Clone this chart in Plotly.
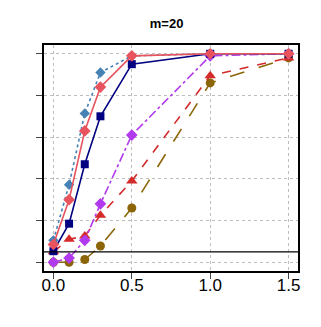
import plotly.graph_objects as go

# shift values (x axis) and rejection rates per method
shift = [0.0, 0.1, 0.2, 0.3, 0.5, 1.0, 1.5]

steel_diamond = [0.105, 0.372, 0.714, 0.91, 0.99, 1.0, 1.0]
red_diamond = [0.085, 0.30, 0.63, 0.84, 0.99, 1.0, 1.0]
navy_square = [0.053, 0.185, 0.47, 0.70, 0.95, 1.0, 1.0]
purple_diamond = [0.0, 0.02, 0.105, 0.28, 0.61, 0.99, 1.0]
red_triangle = [0.05, 0.11, 0.126, 0.225, 0.39, 0.895, 0.98]
brown_circle = [0.0, 0.0, 0.013, 0.078, 0.26, 0.86, 0.98]

alpha_level = 0.05

x_ticks = [0.0, 0.5, 1.0, 1.5]
x_tick_labels = ["0.0", "0.5", "1.0", "1.5"]
y_ticks = [0.0, 0.2, 0.4, 0.6, 0.8, 1.0]

series = [
    # (values, colour, dash, symbol, size)
    (brown_circle, "#8B6508", "longdash", "circle", 9),
    (red_triangle, "#D42A2A", "dash", "triangle-up", 10),
    (purple_diamond, "#B23AEE", "dashdot", "diamond", 9),
    (navy_square, "#000080", "solid", "square", 8),
    (steel_diamond, "#4682B4", "dot", "diamond", 8),
    (red_diamond, "#E8535E", "solid", "diamond", 9),
]

fig = go.Figure()

for vals, col, dash, sym, size in series:
    fig.add_trace(go.Scatter(
        x=shift,
        y=vals,
        mode="lines+markers",
        line=dict(color=col, width=1.6, dash=dash),
        marker=dict(color=col, symbol=sym, size=size, line=dict(width=0)),
        showlegend=False,
    ))

fig.add_hline(y=alpha_level, line=dict(color="black", width=1.2))

# page body has an 8px margin, so the figure is sized/offset for it
fig.update_layout(
    width=305,
    height=311,
    margin=dict(l=36, r=15, t=37, b=48),
    paper_bgcolor="white",
    plot_bgcolor="white",
    font=dict(family="Liberation Sans, Arial, sans-serif", color="black"),
    title=dict(text="<b>m=20</b>", x=0.52, xanchor="center", y=0.95,
               yanchor="middle", font=dict(size=13)),
    xaxis=dict(
        range=[-0.06, 1.56],
        tickvals=x_ticks,
        ticktext=x_tick_labels,
        ticks="outside",
        ticklen=6,
        tickcolor="#444",
        tickfont=dict(size=17),
        ticklabelstandoff=-8,
        showline=True,
        linecolor="black",
        linewidth=1.5,
        mirror=True,
        showgrid=True,
        gridcolor="#bdbdbd",
        griddash="dot",
        gridwidth=1,
        zeroline=False,
    ),
    yaxis=dict(
        range=[-0.042, 1.042],
        tickvals=y_ticks,
        showticklabels=False,
        ticks="outside",
        ticklen=6,
        tickcolor="#444",
        showline=True,
        linecolor="black",
        linewidth=1.5,
        mirror=True,
        showgrid=True,
        gridcolor="#bdbdbd",
        griddash="dot",
        gridwidth=1,
        zeroline=False,
    ),
)

fig.write_html("out.html")
